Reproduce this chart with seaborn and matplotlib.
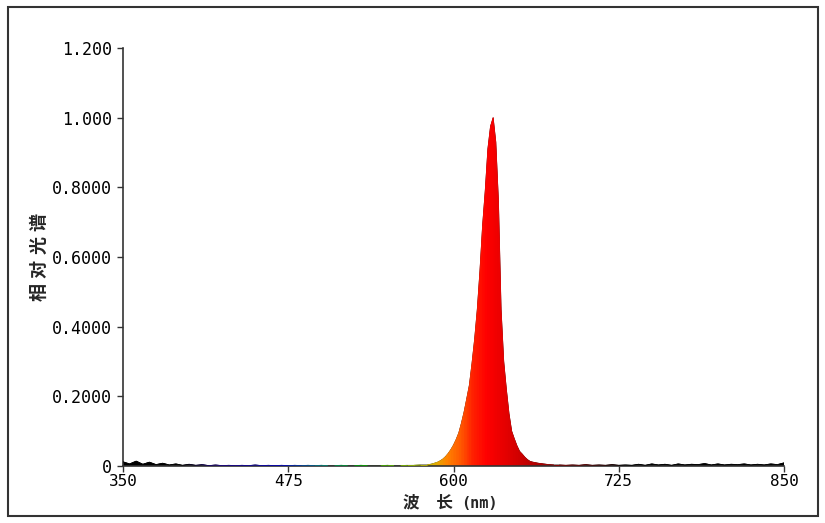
import numpy as np
import pandas as pd
import seaborn as sns
import matplotlib
matplotlib.use("Agg")
from matplotlib import pyplot as plt
from matplotlib.colors import LinearSegmentedColormap
from matplotlib.collections import LineCollection
from matplotlib.patches import PathPatch, Rectangle

# ---- data ----
# baseline noise, short wavelengths (5 nm step)
nm_blue = [350, 355, 360, 365, 370, 375, 380, 385, 390, 395, 400, 405, 410, 415,
           420, 425, 430, 435, 440, 445, 450, 455, 460, 465, 470, 475, 480, 485,
           490, 495, 500, 505, 510, 515, 520, 525, 530, 535, 540, 545, 550, 555,
           560, 565, 570, 575]
rel_blue = [0.012, 0.006, 0.014, 0.005, 0.011, 0.004, 0.008, 0.003, 0.006, 0.002,
            0.005, 0.002, 0.004, 0.001, 0.003, 0.001, 0.002, 0.001, 0.002, 0.001,
            0.003, 0.001, 0.002, 0.001, 0.002, 0.001, 0.002, 0.001, 0.002, 0.001,
            0.002, 0.001, 0.001, 0.002, 0.001, 0.001, 0.002, 0.001, 0.001, 0.001,
            0.002, 0.001, 0.001, 0.002, 0.002, 0.003]

# red emission peak (2 nm step)
nm_peak = [580, 584, 588, 590, 592, 594, 596, 598, 600, 602, 604, 606, 608, 610,
           612, 614, 616, 618, 620, 622, 624, 626, 628, 630, 632, 634, 636, 638,
           640, 642, 644, 646, 648, 650, 652, 654, 656, 658, 660, 664, 668, 672, 676]
rel_peak = [0.003, 0.006, 0.011, 0.015, 0.020, 0.027, 0.036, 0.047, 0.060, 0.076,
            0.095, 0.123, 0.155, 0.193, 0.232, 0.295, 0.365, 0.450, 0.560, 0.690,
            0.790, 0.910, 0.975, 1.000, 0.930, 0.760, 0.450, 0.300, 0.220, 0.150,
            0.100, 0.078, 0.058, 0.042, 0.034, 0.025, 0.018, 0.013, 0.011, 0.008,
            0.006, 0.004, 0.003]

# baseline noise, long wavelengths (5 nm step)
nm_ir = [680, 685, 690, 695, 700, 705, 710, 715, 720, 725, 730, 735, 740, 745, 750,
         755, 760, 765, 770, 775, 780, 785, 790, 795, 800, 805, 810, 815, 820, 825,
         830, 835, 840, 845, 850]
rel_ir = [0.003, 0.002, 0.003, 0.002, 0.004, 0.002, 0.003, 0.002, 0.004, 0.002,
          0.003, 0.002, 0.005, 0.002, 0.006, 0.003, 0.005, 0.002, 0.006, 0.003,
          0.005, 0.004, 0.007, 0.003, 0.006, 0.003, 0.005, 0.004, 0.006, 0.003,
          0.005, 0.003, 0.006, 0.004, 0.009]

x_ticks = [350, 475, 600, 725, 850]
y_ticks = [0, 0.2, 0.4, 0.6, 0.8, 1.0, 1.2]
y_ticklabels = ["0", "0.2000", "0.4000", "0.6000", "0.8000", "1.000", "1.200"]
y_title = ["相", "对", "光", "谱"]

# wavelength -> colour ramp used for the fill
ramp_nm = [350, 395, 420, 470, 500, 530, 570, 586, 595, 605, 615, 625, 640,
           650, 660, 680, 700, 730, 850]
ramp_col = ["#000000", "#000000", "#1a0080", "#0000c0", "#008080", "#00a000",
            "#a0c000", "#e0b000", "#ff8400", "#ff5a00", "#ff2000", "#ff0000",
            "#e40000", "#cf0000", "#b80000", "#8b0000", "#600000", "#000000",
            "#000000"]

df = pd.DataFrame({"nm": nm_blue + nm_peak + nm_ir,
                   "rel": rel_blue + rel_peak + rel_ir})

sns.set_style("ticks")
plt.rcParams["font.family"] = ["DejaVu Sans Mono", "Noto Sans CJK SC"]
cjk = ["Noto Sans CJK SC", "DejaVu Sans"]

fig = plt.figure(figsize=(8.25, 5.23), dpi=100)
ax = fig.add_axes([123 / 825, 1 - 466 / 523, 661 / 825, 418 / 523])

sns.lineplot(data=df, x="nm", y="rel", color="black", lw=0.5, ax=ax)

# gradient fill under the curve
span = ramp_nm[-1] - ramp_nm[0]
cmap = LinearSegmentedColormap.from_list(
    "spec", [((w - ramp_nm[0]) / span, c) for w, c in zip(ramp_nm, ramp_col)])
poly = ax.fill_between(df["nm"], df["rel"], 0, color="none", lw=0)
clip = PathPatch(poly.get_paths()[0], transform=ax.transData,
                 facecolor="none", edgecolor="none")
ax.add_patch(clip)
ramp = np.linspace(ramp_nm[0], ramp_nm[-1], 1000).reshape(1, -1)
im = ax.imshow(ramp, cmap=cmap, extent=[350, 850, 0, 1.2], aspect="auto",
               origin="lower", interpolation="bilinear", zorder=2)
im.set_clip_path(clip)

# outline coloured by wavelength
pts = df[["nm", "rel"]].to_numpy()
segs = np.stack([pts[:-1], pts[1:]], axis=1)
mids = (pts[:-1, 0] + pts[1:, 0]) / 2
lc = LineCollection(segs, colors=cmap((mids - ramp_nm[0]) / span), lw=0.6, zorder=3)
ax.add_collection(lc)

ax.set_xlim(350, 850)
ax.set_ylim(0, 1.2)
ax.set_xticks(x_ticks)
ax.set_xticklabels([str(t) for t in x_ticks])
ax.set_yticks(y_ticks)
ax.set_yticklabels(y_ticklabels)
ax.set_xlabel("")
ax.set_ylabel("")
sns.despine(ax=ax)
for s in ["left", "bottom"]:
    ax.spines[s].set_linewidth(1.2)
    ax.spines[s].set_color("#333333")
ax.tick_params(axis="both", direction="out", length=4, width=1.0, color="#333333",
               labelsize=12, labelcolor="black")
ax.tick_params(axis="y", pad=4)
ax.tick_params(axis="x", pad=2, labelsize=11.5)

# axis titles
fig.text(403 / 825, 1 - 502 / 523, "波\u3000长", ha="left", va="center", fontsize=12,
         fontweight="bold", family=cjk)
fig.text(461 / 825, 1 - 503 / 523, "(nm)", ha="left", va="center", fontsize=11,
         fontweight="bold", family=["DejaVu Sans Mono"])
for i, ch in enumerate(y_title):
    fig.text(39 / 825, 1 - (292 - 23.3 * i) / 523, ch, ha="center", va="center",
             rotation=90, fontsize=13, fontweight="bold", family=cjk)

# frame round the whole picture
fig.patches.append(Rectangle((8 / 825, 1 - 516 / 523), 810 / 825, 509 / 523,
                             transform=fig.transFigure, fill=False,
                             edgecolor="#333333", lw=1.5))

fig.savefig("out.png", dpi=100)
